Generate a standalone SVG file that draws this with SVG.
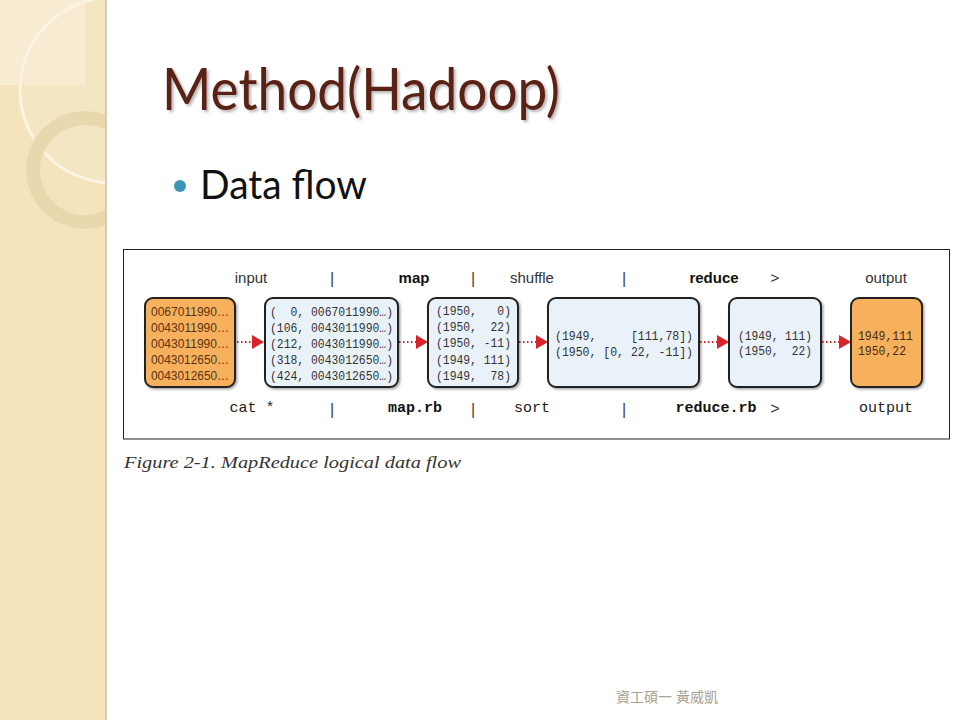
<svg xmlns="http://www.w3.org/2000/svg" width="960" height="720" viewBox="0 0 960 720">
<defs>
<filter id="sh" x="-10%" y="-10%" width="130%" height="130%">
<feDropShadow dx="1.5" dy="1.5" stdDeviation="1.2" flood-color="#000" flood-opacity="0.35"/>
</filter>
<filter id="tsh" x="-5%" y="-10%" width="110%" height="130%">
<feDropShadow dx="2" dy="2" stdDeviation="1.5" flood-color="#000" flood-opacity="0.3"/>
</filter>
<clipPath id="strip"><rect x="0" y="0" width="105" height="720"/></clipPath>
<marker id="ah" viewBox="0 0 12 14" refX="12" refY="7" markerWidth="12" markerHeight="14" markerUnits="userSpaceOnUse" orient="auto">
<path d="M0,0 L12,7 L0,14 Z" fill="#d9222a"/>
</marker>
</defs>
<style>
.box{stroke:#222;stroke-width:2;filter:url(#sh)}
.org{fill:#f7b05b}
.blu{fill:#e9f2f9}
.hd{font-family:"Liberation Sans Narrow","Liberation Sans",Arial,sans-serif;font-size:15px;fill:#333;text-anchor:middle}
.hdb{font-weight:bold;fill:#111}
.bar{font-family:"Liberation Sans",Arial,sans-serif;font-size:16px;fill:#444;text-anchor:middle}
.bt{font-family:"Liberation Mono","DejaVu Sans Mono",monospace;font-size:15px;fill:#222;text-anchor:middle}
.btb{font-weight:bold;fill:#111}
.mono{font-family:"Liberation Mono","DejaVu Sans Mono",monospace;fill:#333;white-space:pre;font-size:13px}
.inp{font-family:"Liberation Sans Narrow","Liberation Sans",Arial,sans-serif;font-size:12.5px;fill:#5b3512}
.outp{font-family:"Liberation Mono","DejaVu Sans Mono",monospace;font-size:13px;fill:#4a2a0e}
.conn{stroke:#d9222a;stroke-width:2.2;stroke-dasharray:1.5 2.5;fill:none;marker-end:url(#ah)}
</style>
<rect x="0" y="0" width="960" height="720" fill="#ffffff"/>
<g id="strip-bg" clip-path="url(#strip)">
<rect x="0" y="0" width="105" height="720" fill="#f4e3bb"/>
<rect x="0" y="0" width="85" height="85" fill="#f8ecd2"/>
<circle cx="113" cy="90" r="93" fill="#f7ead0" fill-opacity="0.4" stroke="#fbf4e4" stroke-width="3"/>
<circle cx="85" cy="170" r="52" fill="none" stroke="#e9d7ae" stroke-width="15"/>
<circle cx="85" cy="170" r="59.5" fill="none" stroke="#f3e6c9" stroke-width="1"/>
<circle cx="85" cy="170" r="44.5" fill="none" stroke="#f3e6c9" stroke-width="1"/>
</g>
<rect x="105" y="0" width="2" height="720" fill="#d6cdb9"/>
<g id="title">
<text x="162" y="110" font-family="Lato,'Liberation Sans',sans-serif" font-size="58" fill="#5a2212" textLength="398" lengthAdjust="spacingAndGlyphs" filter="url(#tsh)">Method(Hadoop)</text>
</g>
<g id="bullet">
<circle cx="180" cy="186" r="6" fill="#3a96b6"/>
<text x="200" y="199" font-family="Lato,'Liberation Sans',sans-serif" font-size="40" fill="#111" textLength="167" lengthAdjust="spacingAndGlyphs">Data flow</text>
</g>
<rect id="frame" x="123.5" y="249.5" width="826" height="189.5" fill="#fff" stroke="#222" stroke-width="1"/>
<g id="headers">
<text class="hd" x="251" y="283">input</text>
<text class="bar" x="332" y="284">|</text>
<text class="hd hdb" x="414" y="283">map</text>
<text class="bar" x="473" y="284">|</text>
<text class="hd" x="532" y="283">shuffle</text>
<text class="bar" x="624" y="284">|</text>
<text class="hd hdb" x="714" y="283">reduce</text>
<text class="hd" x="775" y="283">&gt;</text>
<text class="hd" x="886" y="283">output</text>
</g>
<g id="footers">
<text class="bt" x="252" y="412">cat *</text>
<text class="bar" x="332" y="415">|</text>
<text class="bt btb" x="415" y="412">map.rb</text>
<text class="bar" x="473" y="415">|</text>
<text class="bt" x="532" y="412">sort</text>
<text class="bar" x="624" y="415">|</text>
<text class="bt btb" x="716" y="412">reduce.rb</text>
<text class="hd" x="775" y="414" style="font-size:16px">&gt;</text>
<text class="bt" x="886" y="412">output</text>
</g>
<g id="connectors">
<line class="conn" x1="237" y1="342" x2="264" y2="342"/>
<line class="conn" x1="399" y1="342" x2="428" y2="342"/>
<line class="conn" x1="519" y1="342" x2="548" y2="342"/>
<line class="conn" x1="700" y1="342" x2="729" y2="342"/>
<line class="conn" x1="822" y1="342" x2="851" y2="342"/>
</g>
<g id="node-input">
<rect class="box org" x="145" y="298" width="90" height="89" rx="8"/>
<text class="inp" x="151" y="315.5" textLength="78" lengthAdjust="spacingAndGlyphs">0067011990…</text>
<text class="inp" x="151" y="331.5" textLength="78" lengthAdjust="spacingAndGlyphs">0043011990…</text>
<text class="inp" x="151" y="347.5" textLength="78" lengthAdjust="spacingAndGlyphs">0043011990…</text>
<text class="inp" x="151" y="363.5" textLength="78" lengthAdjust="spacingAndGlyphs">0043012650…</text>
<text class="inp" x="151" y="379.5" textLength="78" lengthAdjust="spacingAndGlyphs">0043012650…</text>
</g>
<g id="node-map-in">
<rect class="box blu" x="265" y="298" width="133" height="89" rx="8"/>
<text class="mono" x="270" y="315.5" textLength="123" lengthAdjust="spacingAndGlyphs" xml:space="preserve">(  0, 0067011990…)</text>
<text class="mono" x="270" y="331.5" textLength="123" lengthAdjust="spacingAndGlyphs" xml:space="preserve">(106, 0043011990…)</text>
<text class="mono" x="270" y="347.5" textLength="123" lengthAdjust="spacingAndGlyphs" xml:space="preserve">(212, 0043011990…)</text>
<text class="mono" x="270" y="363.5" textLength="123" lengthAdjust="spacingAndGlyphs" xml:space="preserve">(318, 0043012650…)</text>
<text class="mono" x="270" y="379.5" textLength="123" lengthAdjust="spacingAndGlyphs" xml:space="preserve">(424, 0043012650…)</text>
</g>
<g id="node-map-out">
<rect class="box blu" x="428" y="298" width="90" height="89" rx="8"/>
<text class="mono" x="436" y="314.5" textLength="75" lengthAdjust="spacingAndGlyphs" xml:space="preserve">(1950,   0)</text>
<text class="mono" x="436" y="330.5" textLength="75" lengthAdjust="spacingAndGlyphs" xml:space="preserve">(1950,  22)</text>
<text class="mono" x="436" y="347" textLength="75" lengthAdjust="spacingAndGlyphs" xml:space="preserve">(1950, -11)</text>
<text class="mono" x="436" y="363.5" textLength="75" lengthAdjust="spacingAndGlyphs" xml:space="preserve">(1949, 111)</text>
<text class="mono" x="436" y="380" textLength="75" lengthAdjust="spacingAndGlyphs" xml:space="preserve">(1949,  78)</text>
</g>
<g id="node-shuffle">
<rect class="box blu" x="548" y="298" width="151" height="89" rx="8"/>
<text class="mono" x="555" y="339.5" textLength="138" lengthAdjust="spacingAndGlyphs" xml:space="preserve">(1949,     [111,78])</text>
<text class="mono" x="555" y="355.5" textLength="138" lengthAdjust="spacingAndGlyphs" xml:space="preserve">(1950, [0, 22, -11])</text>
</g>
<g id="node-reduce">
<rect class="box blu" x="729" y="298" width="92" height="89" rx="8"/>
<text class="mono" x="738" y="339.5" textLength="74" lengthAdjust="spacingAndGlyphs" xml:space="preserve">(1949, 111)</text>
<text class="mono" x="738" y="355" textLength="74" lengthAdjust="spacingAndGlyphs" xml:space="preserve">(1950,  22)</text>
</g>
<g id="node-output">
<rect class="box org" x="851" y="298" width="71" height="89" rx="8"/>
<text class="outp" x="858" y="339.5" textLength="55" lengthAdjust="spacingAndGlyphs">1949,111</text>
<text class="outp" x="858" y="355" textLength="48" lengthAdjust="spacingAndGlyphs">1950,22</text>
</g>
<text id="caption" x="124" y="468" font-family="'Liberation Serif','Times New Roman',serif" font-style="italic" font-size="17" fill="#333" textLength="337" lengthAdjust="spacingAndGlyphs">Figure 2-1. MapReduce logical data flow</text>
<text id="footer" x="667" y="702" text-anchor="middle" font-family="'Liberation Sans','Noto Sans CJK TC',sans-serif" font-size="14" fill="#a8a294">資工碩一 黃威凱</text>
</svg>
